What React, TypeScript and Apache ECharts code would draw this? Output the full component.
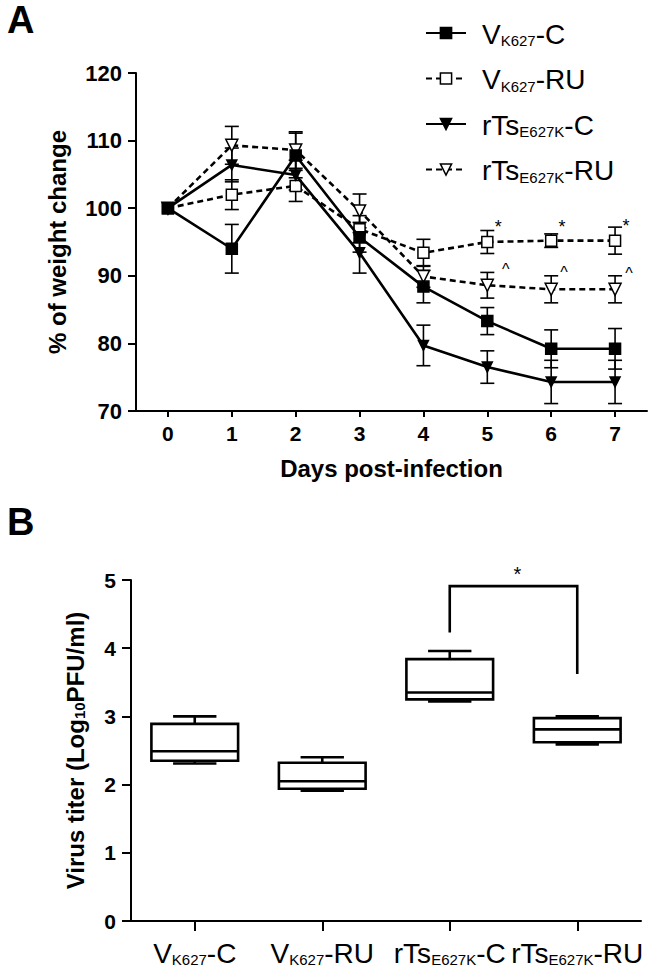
import React, { useEffect, useRef } from 'react';
import * as echarts from 'echarts';

const FONT = '"Liberation Sans", Arial, sans-serif';

// ---- Panel A data ----
const days = [0, 1, 2, 3, 4, 5, 6, 7];
const seriesNames = ['VK627-C', 'VK627-RU', 'rTsE627K-C', 'rTsE627K-RU'];
const vkC = [100, 94.0, 107.8, 95.7, 88.4, 83.3, 79.2, 79.2];
const vkCErr = [0, 3.6, 3.3, 2.2, 2.4, 2.0, 2.8, 3.0];
const vkRU = [100, 102.0, 103.3, 96.9, 93.4, 95.0, 95.2, 95.2];
const vkRUErr = [0, 2.2, 2.3, 2.0, 2.0, 1.7, 1.0, 2.0];
const rtsC = [100, 106.4, 104.9, 93.4, 79.7, 76.5, 74.3, 74.3];
const rtsCErr = [0, 2.5, 2.2, 3.0, 3.0, 2.4, 3.2, 3.2];
const rtsRU = [100, 109.3, 108.6, 99.6, 89.9, 88.6, 88.0, 88.0];
const rtsRUErr = [0, 2.8, 2.7, 2.5, 1.6, 1.9, 2.0, 2.0];
const starMarks = [[5.17, 97.2], [6.17, 97.2], [7.17, 97.4]];
const caretMarks = [[5.29, 90.9], [6.2, 90.5], [7.22, 90.3]];

// ---- Panel B data ----
const titerGroups = ['VK627-C', 'VK627-RU', 'rTsE627K-C', 'rTsE627K-RU'];
const titerMin = [2.31, 1.91, 3.22, 2.59];
const titerQ1 = [2.35, 1.94, 3.25, 2.62];
const titerMedian = [2.49, 2.05, 3.35, 2.81];
const titerQ3 = [2.89, 2.32, 3.84, 2.975];
const titerMax = [3.0, 2.4, 3.96, 3.0];
const bracketGroups = [2, 3];
const bracketEnds = [4.23, 3.62];
const bracketTop = 4.91;

const richName = (n: string) => {
  const m = n.match(/^(V|rTs)(K627|E627K)(-.*)$/);
  if (!m) return n;
  return `{m|${m[1]}}{s|${m[2]}}{m|${m[3]}}`;
};

const richStyles = {
  g: { width: 11 },
  m: { fontSize: 28, lineHeight: 30, verticalAlign: 'bottom', fontFamily: FONT, color: '#000' },
  s: { fontSize: 15, lineHeight: 21, verticalAlign: 'bottom', fontFamily: FONT, color: '#000' },
};

const errorBarSeries = (vals: number[], errs: number[]) => ({
  type: 'custom',
  xAxisIndex: 0,
  yAxisIndex: 0,
  z: 2,
  silent: true,
  data: days.map((d, i) => [d, vals[i], errs[i]]),
  renderItem: (params: any, api: any) => {
    const x = api.value(0);
    const y = api.value(1);
    const e = api.value(2);
    if (!e) return { type: 'group', children: [] };
    const top = api.coord([x, y + e]);
    const bot = api.coord([x, y - e]);
    const cw = 7;
    const st = { stroke: '#000', lineWidth: 1.6 };
    return {
      type: 'group',
      children: [
        { type: 'line', shape: { x1: top[0], y1: top[1], x2: bot[0], y2: bot[1] }, style: st },
        { type: 'line', shape: { x1: top[0] - cw, y1: top[1], x2: top[0] + cw, y2: top[1] }, style: st },
        { type: 'line', shape: { x1: bot[0] - cw, y1: bot[1], x2: bot[0] + cw, y2: bot[1] }, style: st },
      ],
    };
  },
});

const textMarkSeries = (pts: number[][], txt: string, size: number) => ({
  type: 'custom',
  xAxisIndex: 0,
  yAxisIndex: 0,
  z: 6,
  silent: true,
  data: pts,
  renderItem: (params: any, api: any) => {
    const p = api.coord([api.value(0), api.value(1)]);
    return {
      type: 'text',
      x: p[0],
      y: p[1],
      style: { text: txt, fill: '#000', font: `${size}px ${FONT}`, textAlign: 'center', textVerticalAlign: 'middle' },
    };
  },
});

const lineSeries = (name: string, vals: number[], symbol: string, size: number, open: boolean, dashed: boolean, rotate: number, z: number) => ({
  name,
  type: 'line',
  xAxisIndex: 0,
  yAxisIndex: 0,
  z,
  data: days.map((d, i) => [d, vals[i]]),
  symbol,
  symbolSize: size,
  symbolRotate: rotate,
  showAllSymbol: true,
  lineStyle: { color: '#000', width: 2.6, type: dashed ? [6, 4] : 'solid' },
  itemStyle: { color: open ? '#fff' : '#000', borderColor: '#000', borderWidth: 1.5 },
  emphasis: { disabled: true },
});

export default function App() {
  const ref = useRef<HTMLDivElement>(null);
  useEffect(() => {
    document.body.style.margin = '0';
    const chart = echarts.init(ref.current!, undefined, { renderer: 'svg' });
    const axisBase = {
      axisLine: { show: true, onZero: false, lineStyle: { color: '#000', width: 2 } },
      splitLine: { show: false },
    };
    const option: any = {
      animation: false,
      backgroundColor: '#fff',
      grid: [
        { left: 136, right: 23, top: 73, bottom: 561, containLabel: false },
        { left: 131, right: 29, top: 580, bottom: 51, containLabel: false },
      ],
      legend: {
        data: seriesNames,
        orient: 'vertical',
        left: 420,
        top: 14,
        itemWidth: 40,
        itemHeight: 14,
        itemGap: 16.5,
        selectedMode: false,
        itemStyle: { borderColor: '#000', borderWidth: 1.5 },
        formatter: (n: string) => '{g|}' + richName(n),
        textStyle: { color: '#000', fontFamily: FONT, fontSize: 28, rich: richStyles },
      },
      xAxis: [
        {
          ...axisBase,
          type: 'value',
          gridIndex: 0,
          min: -0.5,
          max: 7.5,
          axisTick: { show: true, length: 6, lineStyle: { color: '#000', width: 2 }, customValues: days },
          axisLabel: { customValues: days, color: '#000', fontSize: 21, fontWeight: 'bold', fontFamily: FONT, margin: 12 },
          name: 'Days post-infection',
          nameLocation: 'middle',
          nameGap: 45,
          nameTextStyle: { color: '#000', fontSize: 24, fontWeight: 'bold', fontFamily: FONT },
        },
        {
          ...axisBase,
          type: 'category',
          gridIndex: 1,
          data: titerGroups,
          boundaryGap: true,
          axisTick: { show: true, alignWithLabel: true, length: 10, lineStyle: { color: '#000', width: 2 } },
          axisLabel: {
            color: '#000',
            fontFamily: FONT,
            fontSize: 28,
            margin: 16,
            interval: 0,
            formatter: (n: string) => richName(n),
            rich: richStyles,
          },
        },
      ],
      yAxis: [
        {
          ...axisBase,
          type: 'value',
          gridIndex: 0,
          min: 70,
          max: 120,
          interval: 10,
          axisTick: { show: true, length: 8, lineStyle: { color: '#000', width: 2 } },
          axisLabel: { color: '#000', fontSize: 22, fontWeight: 'bold', fontFamily: FONT, margin: 14 },
          name: '% of weight change',
          nameLocation: 'middle',
          nameRotate: 90,
          nameGap: 67,
          nameTextStyle: { color: '#000', fontSize: 24, fontWeight: 'bold', fontFamily: FONT },
        },
        {
          ...axisBase,
          type: 'value',
          gridIndex: 1,
          min: 0,
          max: 5,
          interval: 1,
          axisTick: { show: true, length: 9, lineStyle: { color: '#000', width: 2 } },
          axisLabel: { color: '#000', fontSize: 21, fontWeight: 'bold', fontFamily: FONT, margin: 15 },
          name: '{a|Virus titer (Log}{s|10}{a|PFU/ml)}',
          nameLocation: 'middle',
          nameRotate: 90,
          nameGap: 44,
          nameTextStyle: {
            color: '#000',
            fontSize: 24,
            fontWeight: 'bold',
            fontFamily: FONT,
            rich: {
              a: { fontSize: 24, fontWeight: 'bold', fontFamily: FONT, color: '#000', lineHeight: 28, verticalAlign: 'bottom' },
              s: { fontSize: 15, fontWeight: 'bold', fontFamily: FONT, color: '#000', lineHeight: 10, verticalAlign: 'bottom' },
            },
          },
        },
      ],
      graphic: [
        { type: 'text', left: 7, top: 1, style: { text: 'A', font: `bold 38px ${FONT}`, fill: '#000' } },
        { type: 'text', left: 7, top: 503, style: { text: 'B', font: `bold 38px ${FONT}`, fill: '#000' } },
      ],
      series: [
        errorBarSeries(vkC, vkCErr),
        errorBarSeries(vkRU, vkRUErr),
        errorBarSeries(rtsC, rtsCErr),
        errorBarSeries(rtsRU, rtsRUErr),
        lineSeries('VK627-C', vkC, 'rect', 11, false, false, 0, 5),
        lineSeries('VK627-RU', vkRU, 'rect', 11, true, true, 0, 3),
        lineSeries('rTsE627K-C', rtsC, 'triangle', 10, false, false, 180, 4),
        lineSeries('rTsE627K-RU', rtsRU, 'triangle', 12, true, true, 180, 3),
        textMarkSeries(starMarks, '*', 18),
        textMarkSeries(caretMarks, '^', 16),
        {
          type: 'custom',
          xAxisIndex: 1,
          yAxisIndex: 1,
          silent: true,
          data: titerGroups.map((_, i) => [i, titerMin[i], titerQ1[i], titerMedian[i], titerQ3[i], titerMax[i]]),
          renderItem: (params: any, api: any) => {
            const idx = api.value(0);
            const pMin = api.coord([idx, api.value(1)]);
            const pQ1 = api.coord([idx, api.value(2)]);
            const pMed = api.coord([idx, api.value(3)]);
            const pQ3 = api.coord([idx, api.value(4)]);
            const pMax = api.coord([idx, api.value(5)]);
            const band = api.size([1, 0])[0];
            const hw = band * 0.34;
            const cw = hw / 2;
            const cx = pMed[0];
            const st = { stroke: '#000', lineWidth: 2.6 };
            return {
              type: 'group',
              children: [
                { type: 'line', shape: { x1: cx, y1: pQ3[1], x2: cx, y2: pMax[1] }, style: st },
                { type: 'line', shape: { x1: cx - cw, y1: pMax[1], x2: cx + cw, y2: pMax[1] }, style: st },
                { type: 'line', shape: { x1: cx, y1: pQ1[1], x2: cx, y2: pMin[1] }, style: st },
                { type: 'line', shape: { x1: cx - cw, y1: pMin[1], x2: cx + cw, y2: pMin[1] }, style: st },
                { type: 'rect', shape: { x: cx - hw, y: pQ3[1], width: 2 * hw, height: pQ1[1] - pQ3[1] }, style: { fill: '#fff', stroke: '#000', lineWidth: 2.6 } },
                { type: 'line', shape: { x1: cx - hw, y1: pMed[1], x2: cx + hw, y2: pMed[1] }, style: st },
              ],
            };
          },
        },
        {
          type: 'custom',
          xAxisIndex: 1,
          yAxisIndex: 1,
          silent: true,
          data: [[bracketGroups[0], bracketGroups[1], bracketEnds[0], bracketEnds[1], bracketTop]],
          renderItem: (params: any, api: any) => {
            const a = api.coord([api.value(0), api.value(2)]);
            const b = api.coord([api.value(1), api.value(3)]);
            const ta = api.coord([api.value(0), api.value(4)]);
            const tb = api.coord([api.value(1), api.value(4)]);
            return {
              type: 'group',
              children: [
                {
                  type: 'polyline',
                  shape: { points: [a, ta, tb, b] },
                  style: { stroke: '#000', lineWidth: 2.6, fill: 'none' },
                },
                {
                  type: 'text',
                  x: (ta[0] + tb[0]) / 2 + 4,
                  y: ta[1] - 12,
                  style: { text: '*', fill: '#000', font: `20px ${FONT}`, textAlign: 'center', textVerticalAlign: 'middle' },
                },
              ],
            };
          },
        },
      ],
    };
    chart.setOption(option);
    return () => chart.dispose();
  }, []);
  return <div ref={ref} style={{ width: 670, height: 972 }} />;
}
